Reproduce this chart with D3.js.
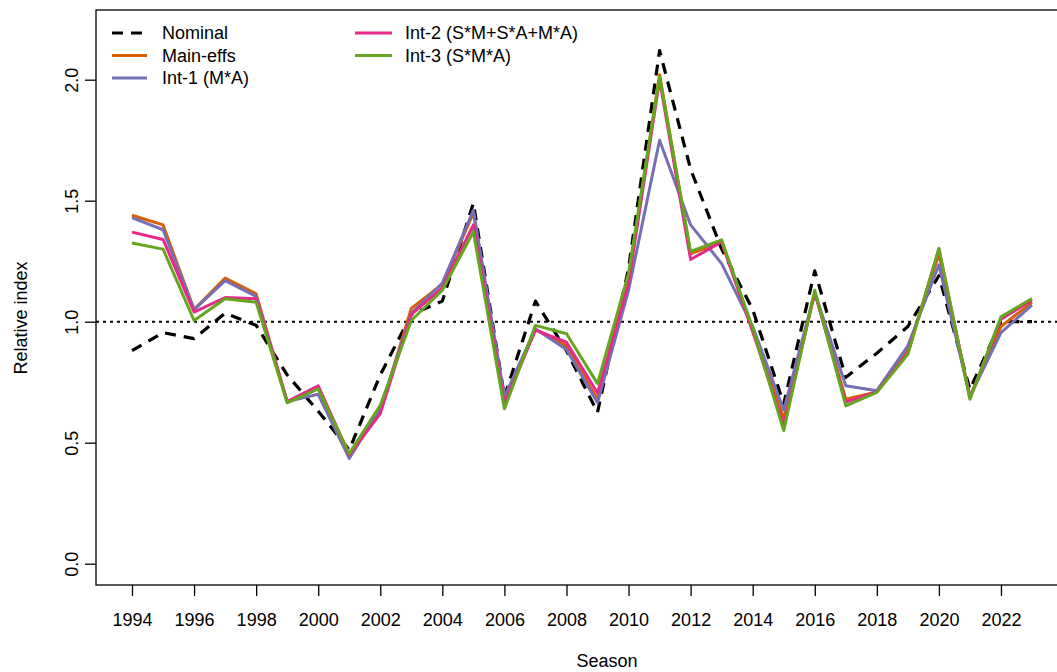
<!DOCTYPE html>
<html>
<head>
<meta charset="utf-8">
<script src="https://cdn.jsdelivr.net/npm/d3@7"></script>
<style>
  html, body { margin: 0; padding: 0; background: #ffffff; }
  svg { display: block; font-family: "Liberation Sans", Arial, Helvetica, sans-serif; }
</style>
</head>
<body>
<svg id="chart" width="1057" height="672"></svg>
<script>
// Seasons and relative index series for each model
const seasons = d3.range(1994, 2024);

const nominal = [0.88, 0.955, 0.93, 1.035, 0.985, 0.78, 0.63, 0.47, 0.78, 1.03,
                 1.085, 1.49, 0.69, 1.085, 0.88, 0.625, 1.22, 2.12, 1.63, 1.30,
                 1.05, 0.66, 1.21, 0.77, 0.87, 0.98, 1.19, 0.72, 1.0, 1.0];

const mainEffs = [1.44, 1.40, 1.05, 1.18, 1.115, 0.67, 0.73, 0.45, 0.63, 1.055,
                  1.155, 1.45, 0.67, 0.97, 0.90, 0.68, 1.18, 2.02, 1.28, 1.33,
                  0.96, 0.60, 1.12, 0.68, 0.71, 0.88, 1.28, 0.69, 0.98, 1.08];

const int1 = [1.43, 1.38, 1.05, 1.17, 1.105, 0.67, 0.70, 0.435, 0.64, 1.035,
              1.16, 1.46, 0.69, 0.97, 0.885, 0.665, 1.13, 1.75, 1.40, 1.24,
              0.98, 0.635, 1.12, 0.735, 0.715, 0.90, 1.235, 0.69, 0.955, 1.068];

const int2 = [1.37, 1.34, 1.04, 1.10, 1.095, 0.67, 0.735, 0.45, 0.62, 1.03,
              1.14, 1.40, 0.66, 0.965, 0.915, 0.705, 1.16, 2.00, 1.257, 1.33,
              0.96, 0.57, 1.12, 0.668, 0.71, 0.87, 1.30, 0.685, 1.01, 1.09];

const int3 = [1.325, 1.30, 1.005, 1.095, 1.08, 0.665, 0.722, 0.455, 0.655, 1.005,
              1.13, 1.372, 0.64, 0.985, 0.95, 0.744, 1.20, 2.012, 1.29, 1.338,
              0.975, 0.55, 1.13, 0.652, 0.708, 0.865, 1.303, 0.68, 1.02, 1.096];

const xTicks = d3.range(1994, 2023, 2);
const yTicks = [0.0, 0.5, 1.0, 1.5, 2.0];

const seriesList = [
  { name: "Nominal",              values: nominal,  color: "#000000", dash: "11,8", width: 3.2 },
  { name: "Main-effs",            values: mainEffs, color: "#D95F02", dash: null,   width: 3 },
  { name: "Int-1 (M*A)",          values: int1,     color: "#7570B3", dash: null,   width: 3 },
  { name: "Int-2 (S*M+S*A+M*A)",  values: int2,     color: "#E7298A", dash: null,   width: 3 },
  { name: "Int-3 (S*M*A)",        values: int3,     color: "#66A61E", dash: null,   width: 3 }
];

const svg = d3.select("#chart");
const W = 1057, H = 672;
const plot = { left: 96, right: 1068, top: 10, bottom: 585 };

svg.append("rect").attr("width", W).attr("height", H).attr("fill", "#ffffff");

// R-style 4% padding around the data range
const x = d3.scaleLinear().domain([1992.84, 2024.16]).range([plot.left, plot.right]);
const y = d3.scaleLinear().domain([-0.088, 2.288]).range([plot.bottom, plot.top]);

const fontSize = 18;

// Reference line at 1.0
svg.append("line")
  .attr("x1", plot.left).attr("x2", plot.right)
  .attr("y1", y(1)).attr("y2", y(1))
  .attr("stroke", "#000").attr("stroke-width", 2)
  .attr("stroke-dasharray", "3,4");

// Series lines
const line = d3.line()
  .x((d, i) => x(seasons[i]))
  .y(d => y(d));

seriesList.forEach(s => {
  svg.append("path")
    .datum(s.values)
    .attr("d", line)
    .attr("fill", "none")
    .attr("stroke", s.color)
    .attr("stroke-width", s.width)
    .attr("stroke-linejoin", "round")
    .attr("stroke-dasharray", s.dash);
});

// Plot frame
svg.append("rect")
  .attr("x", plot.left).attr("y", plot.top)
  .attr("width", plot.right - plot.left).attr("height", plot.bottom - plot.top)
  .attr("fill", "none").attr("stroke", "#000").attr("stroke-width", 1.3);

// Bottom axis
const xAxis = svg.append("g")
  .attr("transform", `translate(0,${plot.bottom})`)
  .call(d3.axisBottom(x).tickValues(xTicks).tickFormat(d3.format("d")).tickSize(11).tickSizeOuter(0));
xAxis.select(".domain").remove();
xAxis.selectAll(".tick line").attr("stroke", "#000").attr("stroke-width", 1.3);
xAxis.selectAll(".tick text")
  .attr("y", 41).attr("dy", 0)
  .attr("font-size", fontSize).attr("fill", "#000")
  .attr("font-family", "Liberation Sans, Arial, sans-serif");

// Left axis
const yAxis = svg.append("g")
  .attr("transform", `translate(${plot.left},0)`)
  .call(d3.axisLeft(y).tickValues(yTicks).tickFormat(d3.format(".1f")).tickSize(11).tickSizeOuter(0));
yAxis.select(".domain").remove();
yAxis.selectAll(".tick line").attr("stroke", "#000").attr("stroke-width", 1.3);
yAxis.selectAll(".tick text")
  .attr("transform", "rotate(-90)")
  .attr("x", 0).attr("y", -18).attr("dy", 0)
  .attr("text-anchor", "middle")
  .attr("font-size", fontSize).attr("fill", "#000")
  .attr("font-family", "Liberation Sans, Arial, sans-serif");

// Axis titles
svg.append("text")
  .attr("x", 607).attr("y", 667)
  .attr("text-anchor", "middle").attr("font-size", fontSize)
  .text("Season");

svg.append("text")
  .attr("transform", "translate(27,318) rotate(-90)")
  .attr("text-anchor", "middle").attr("font-size", fontSize)
  .text("Relative index");

// Legend, two columns filled top to bottom
const legendRows = [33, 55.5, 78];
const legendCols = [{ x1: 112, x2: 147, tx: 162 }, { x1: 355, x2: 392, tx: 405 }];
const legend = svg.append("g");
seriesList.forEach((s, i) => {
  const col = legendCols[Math.floor(i / 3)];
  const ry = legendRows[i % 3];
  legend.append("line")
    .attr("x1", col.x1).attr("x2", col.x2)
    .attr("y1", ry).attr("y2", ry)
    .attr("stroke", s.color).attr("stroke-width", s.width)
    .attr("stroke-dasharray", s.dash);
  legend.append("text")
    .attr("x", col.tx).attr("y", ry).attr("dy", "0.35em")
    .attr("font-size", fontSize).attr("fill", "#000")
    .text(s.name);
});
</script>
</body>
</html>
